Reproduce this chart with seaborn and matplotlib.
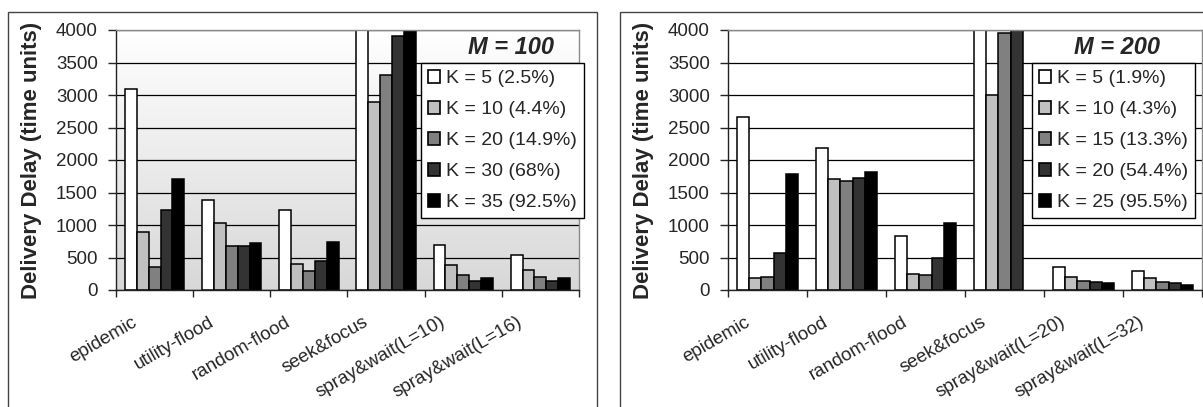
import numpy as np
import pandas as pd
import matplotlib
matplotlib.use("Agg")
import matplotlib.pyplot as plt
import matplotlib.transforms as mtransforms
from matplotlib.patches import Patch, Rectangle
from matplotlib.colors import LinearSegmentedColormap
import seaborn as sns

methods_m100 = ["epidemic", "utility-flood", "random-flood", "seek&focus",
                "spray&wait(L=10)", "spray&wait(L=16)"]
methods_m200 = ["epidemic", "utility-flood", "random-flood", "seek&focus",
                "spray&wait(L=20)", "spray&wait(L=32)"]

k_m100 = ["K = 5 (2.5%)", "K = 10 (4.4%)", "K = 20 (14.9%)", "K = 30 (68%)", "K = 35 (92.5%)"]
k_m200 = ["K = 5 (1.9%)", "K = 10 (4.3%)", "K = 15 (13.3%)", "K = 20 (54.4%)", "K = 25 (95.5%)"]

# delivery delay per method, one list per K (seek&focus K=5 runs off the top)
delay_m100_k5 = [3100, 1390, 1235, 4400, 685, 540]
delay_m100_k10 = [900, 1035, 400, 2895, 385, 310]
delay_m100_k20 = [350, 670, 285, 3305, 230, 195]
delay_m100_k30 = [1235, 670, 440, 3905, 145, 145]
delay_m100_k35 = [1710, 730, 745, 4050, 180, 180]

delay_m200_k5 = [2660, 2190, 830, 4400, 350, 285]
delay_m200_k10 = [180, 1710, 245, 3000, 205, 180]
delay_m200_k15 = [205, 1675, 230, 3960, 145, 130]
delay_m200_k20 = [570, 1725, 490, 4050, 130, 105]
delay_m200_k25 = [1790, 1815, 1035, np.nan, 105, 80]

bar_colors = ["#ffffff", "#c0c0c0", "#808080", "#333333", "#000000"]

W, H = 1203, 407

sns.set_style("white")
plt.rcParams["font.family"] = ["Liberation Sans", "DejaVu Sans"]


def draw_panel(fig, rect, methods, k_labels, series, title, title_xy, legend_xy, gradient):
    ax = fig.add_axes(rect)
    rows = []
    for k, vals in zip(k_labels, series):
        for m, v in zip(methods, vals):
            rows.append({"method": m, "k": k, "delay": v})
    df = pd.DataFrame(rows)

    sns.barplot(data=df, x="method", y="delay", hue="k", order=methods, hue_order=k_labels,
                palette=bar_colors, saturation=1, edgecolor="black", linewidth=1.1,
                width=0.77, errorbar=None, legend=False, ax=ax, zorder=2)

    if gradient:
        cmap = LinearSegmentedColormap.from_list("bg", ["#d8d8d8", "#ffffff"])
        grad = np.linspace(0, 1, 256)[:, None]
        ax.imshow(grad, cmap=cmap, origin="lower", aspect="auto",
                  extent=[-0.5, len(methods) - 0.5, 0, 4000], zorder=0)

    ax.set_xlim(-0.5, len(methods) - 0.5)
    ax.set_ylim(0, 4000)

    ax.set_yticks(range(0, 4001, 500))
    ax.yaxis.grid(True, color="black", lw=0.9)
    ax.set_axisbelow(True)
    ax.tick_params(axis="y", length=6, width=1, direction="out", labelsize=13.5, pad=7,
                   left=True)

    ax.set_xticks(range(len(methods)))
    ax.set_xticklabels(methods, rotation=30, ha="right", fontsize=13.5)
    ax.set_xticks(np.arange(-0.5, len(methods), 1), minor=True)
    ax.tick_params(axis="x", which="major", length=0, pad=17)
    ax.tick_params(axis="x", which="minor", length=5, width=1, direction="out", bottom=True)
    offset = mtransforms.ScaledTranslation(-0.15, 0, fig.dpi_scale_trans)
    for lbl in ax.get_xticklabels():
        lbl.set_transform(lbl.get_transform() + offset)

    ax.set_xlabel("")
    ax.set_ylabel("Delivery Delay (time units)", fontsize=16, fontweight="bold", labelpad=10)

    for side in ["top", "right"]:
        ax.spines[side].set_color("#8a8a8a")
    for side in ["left", "bottom"]:
        ax.spines[side].set_color("#222222")
    for s in ax.spines.values():
        s.set_linewidth(1)

    fig.text(title_xy[0] / W, 1 - title_xy[1] / H, title, fontsize=17, fontweight="bold",
             fontstyle="italic", ha="center", va="center")

    handles = [Patch(facecolor=c, edgecolor="black", lw=1.2) for c in bar_colors]
    leg = ax.legend(handles, k_labels, loc="upper left",
                    bbox_to_anchor=(legend_xy[0] / W, 1 - legend_xy[1] / H),
                    bbox_transform=fig.transFigure, frameon=True, fancybox=False,
                    edgecolor="black", framealpha=1, fontsize=14, handlelength=0.65,
                    handleheight=0.65, handletextpad=0.3, labelspacing=0.7,
                    borderpad=0.35, borderaxespad=0)
    leg.get_frame().set_linewidth(1.0)
    return ax


fig = plt.figure(figsize=(W / 100, H / 100), dpi=100)

draw_panel(fig, [116 / W, 1 - 290 / H, 463 / W, 260 / H], methods_m100, k_m100,
           [delay_m100_k5, delay_m100_k10, delay_m100_k20, delay_m100_k30, delay_m100_k35],
           "M = 100", (511, 47), (421, 63), True)
draw_panel(fig, [728 / W, 1 - 290 / H, 474 / W, 260 / H], methods_m200, k_m200,
           [delay_m200_k5, delay_m200_k10, delay_m200_k15, delay_m200_k20, delay_m200_k25],
           "M = 200", (1117, 47), (1032, 63), False)

# outer chart frames
fig.patches.append(Rectangle((8 / W, -0.1), (597 - 8) / W, 1.1 - 12 / H,
                             transform=fig.transFigure, fill=False, edgecolor="#444444", lw=1))
fig.patches.append(Rectangle((620 / W, -0.1), 0.6, 1.1 - 12 / H,
                             transform=fig.transFigure, fill=False, edgecolor="#444444", lw=1))

fig.savefig("out.png", dpi=100)
plt.close(fig)
